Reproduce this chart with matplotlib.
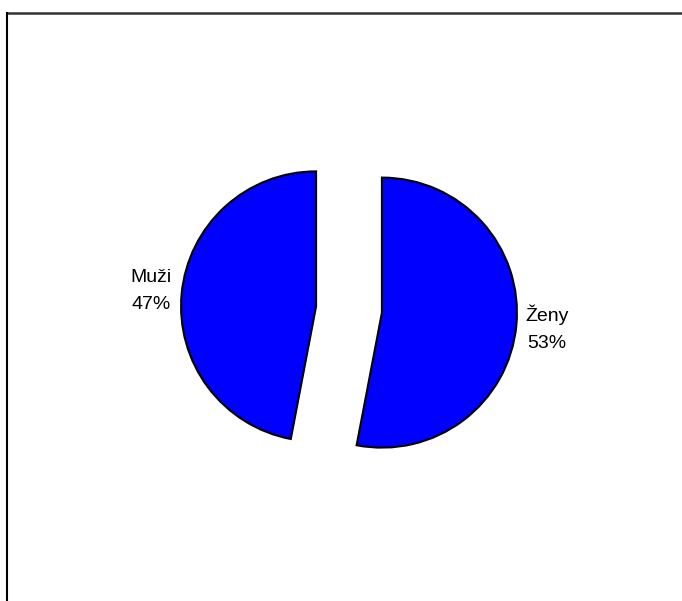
import matplotlib
matplotlib.use("Agg")
import matplotlib.pyplot as plt
from matplotlib.lines import Line2D

categories = ["Muži", "Ženy"]
values = [47, 53]
colors = ["#0000FF", "#0000FF"]

W, H = 682, 601
fig = plt.figure(figsize=(W / 100, H / 100), dpi=100)
ax = fig.add_axes([0, 0, 1, 1])

cx, cy, r = 349, H - 309.5, 135
explode_frac = 0.245
labels = [f"{c}\n{v}%" for c, v in zip(categories, values)]
wedges, texts = ax.pie(values, labels=labels, colors=colors, startangle=90,
                       counterclock=True, explode=[explode_frac * r] * len(values),
                       center=(cx, cy), radius=r, labeldistance=1.23,
                       wedgeprops=dict(edgecolor="black", linewidth=1.5),
                       textprops=dict(fontsize=14, family=["Liberation Sans", "DejaVu Sans"],
                                      color="black"))
for t in texts:
    t.set_horizontalalignment("center")
    t.set_verticalalignment("center")
    t.set_multialignment("center")
    t.set_linespacing(1.75)

ax.set_xlim(0, W)
ax.set_ylim(0, H)
ax.set_aspect("equal")
ax.axis("off")

# frame lines
fig.add_artist(Line2D([7.3 / W, 1], [1 - 12.7 / H, 1 - 12.7 / H], color="#333333", linewidth=1.8,
                      transform=fig.transFigure))
fig.add_artist(Line2D([7.3 / W, 7.3 / W], [0, 1 - 12.7 / H], color="black", linewidth=1.5,
                      transform=fig.transFigure))

fig.savefig("out.png", dpi=100)
